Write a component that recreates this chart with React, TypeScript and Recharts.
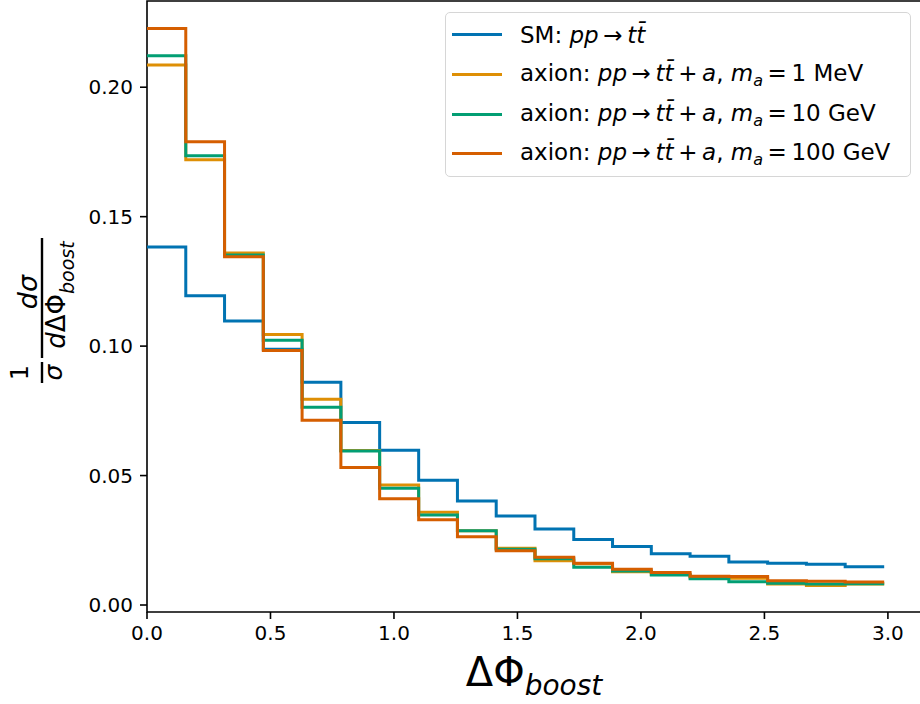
import React from "react"
import { LineChart, Line, XAxis, YAxis, ReferenceArea } from "recharts"

// bin edges of ΔΦ_boost (19 bins of width π/20)
const edges = [
  0, 0.157, 0.314, 0.471, 0.628, 0.785, 0.942, 1.1, 1.257, 1.414,
  1.571, 1.728, 1.885, 2.042, 2.199, 2.356, 2.513, 2.67, 2.827, 2.985,
]

// normalised distributions, one value per bin
const sm = [
  0.1383, 0.1195, 0.1097, 0.0988, 0.086, 0.0705, 0.0598, 0.0482, 0.0402, 0.0344,
  0.0294, 0.0253, 0.0226, 0.0198, 0.0188, 0.0166, 0.0161, 0.0157, 0.0148,
]
const axion1MeV = [
  0.2086, 0.172, 0.136, 0.1045, 0.0795, 0.0597, 0.0464, 0.0358, 0.0287, 0.0219,
  0.0171, 0.0159, 0.0128, 0.0119, 0.0107, 0.0103, 0.0081, 0.0075, 0.0081,
]
const axion10GeV = [
  0.2122, 0.1735, 0.1352, 0.1023, 0.0764, 0.0595, 0.0451, 0.0348, 0.0287, 0.0215,
  0.0179, 0.0146, 0.0131, 0.0116, 0.0101, 0.009, 0.0084, 0.0081, 0.0082,
]
const axion100GeV = [
  0.2227, 0.1789, 0.1345, 0.0983, 0.0714, 0.0531, 0.041, 0.0329, 0.0264, 0.021,
  0.0184, 0.0161, 0.0138, 0.0126, 0.0111, 0.011, 0.0094, 0.0092, 0.0089,
]

const xTicks = [0, 0.5, 1, 1.5, 2, 2.5, 3]
const yTicks = [0, 0.05, 0.1, 0.15, 0.2]

const X_DOMAIN: [number, number] = [0, 3.134]
const Y_DOMAIN: [number, number] = [-0.0027, 0.2333]

const colors = {
  sm: "#0173b2",
  m1: "#de8f05",
  m10: "#029e73",
  m100: "#d55e00",
}

// step curve: last value repeated on the closing edge
const last = (arr: number[], i: number) => arr[Math.min(i, arr.length - 1)]
const data = edges.map((x, i) => ({
  x,
  sm: last(sm, i),
  m1: last(axion1MeV, i),
  m10: last(axion10GeV, i),
  m100: last(axion100GeV, i),
}))

const font = "DejaVu Sans"
const th = "\u2009" // thin space, like mathtext operator spacing

const tbar = <i>t{"\u0304"}</i>

function AxionLabel({ mass }: { mass: string }) {
  return (
    <span>
      axion: <i>pp</i>{th}→{th}<i>t</i>{tbar}{th}+{th}<i>a</i>, <i>m</i>
      <span style={{ fontSize: 16, fontStyle: "italic", position: "relative", top: 5 }}>a</span>
      {th}={th}{mass}
    </span>
  )
}

const legendRows = [
  { color: colors.sm, label: <span>SM: <i>pp</i>{th}→{th}<i>t</i>{tbar}</span> },
  { color: colors.m1, label: <AxionLabel mass="1 MeV" /> },
  { color: colors.m10, label: <AxionLabel mass="10 GeV" /> },
  { color: colors.m100, label: <AxionLabel mass="100 GeV" /> },
]

function ChartLegend() {
  return (
    <div
      style={{
        position: "absolute",
        left: 445,
        top: 12,
        width: 466,
        height: 165,
        boxSizing: "border-box",
        border: "1.6px solid #d6d6d6",
        borderRadius: 5,
        background: "#fff",
        fontFamily: font,
        fontSize: 23,
        paddingTop: 2,
        color: "#000",
      }}
    >
      {legendRows.map((r, i) => (
        <div key={i} style={{ display: "flex", alignItems: "center", height: 39.7, whiteSpace: "nowrap" }}>
          <div style={{ marginLeft: 6, width: 50, height: 3, background: r.color, flexShrink: 0 }} />
          <div style={{ marginLeft: 18, lineHeight: "28px", flexShrink: 0 }}>{r.label}</div>
        </div>
      ))}
    </div>
  )
}

export default function App() {
  return (
    <div style={{ position: "absolute", left: 0, top: 0, width: 920, height: 704, overflow: "hidden", background: "#fff" }}>
      <LineChart width={924} height={704} data={data} margin={{ top: 1, right: 3, bottom: 0, left: 0 }}>
        <XAxis
          dataKey="x"
          type="number"
          domain={X_DOMAIN}
          ticks={xTicks}
          allowDataOverflow
          height={92}
          axisLine={false}
          tickSize={7}
          tickMargin={7}
          tickLine={{ stroke: "#000", strokeWidth: 1.6 }}
          tickFormatter={(v: number) => v.toFixed(1)}
          tick={{ fill: "#000", fontSize: 20, fontFamily: font }}
        />
        <YAxis
          type="number"
          domain={Y_DOMAIN}
          ticks={yTicks}
          allowDataOverflow
          width={147}
          axisLine={false}
          tickSize={7}
          tickMargin={7}
          tickLine={{ stroke: "#000", strokeWidth: 1.6 }}
          tickFormatter={(v: number) => v.toFixed(2)}
          tick={{ fill: "#000", fontSize: 20, fontFamily: font }}
        />
        <Line dataKey="sm" type="stepAfter" stroke={colors.sm} strokeWidth={3} dot={false} isAnimationActive={false} />
        <Line dataKey="m1" type="stepAfter" stroke={colors.m1} strokeWidth={3} dot={false} isAnimationActive={false} />
        <Line dataKey="m10" type="stepAfter" stroke={colors.m10} strokeWidth={3} dot={false} isAnimationActive={false} />
        <Line dataKey="m100" type="stepAfter" stroke={colors.m100} strokeWidth={3} dot={false} isAnimationActive={false} />
        <ReferenceArea
          x1={X_DOMAIN[0]}
          x2={X_DOMAIN[1]}
          y1={Y_DOMAIN[0]}
          y2={Y_DOMAIN[1]}
          fill="none"
          stroke="#000"
          strokeWidth={1.6}
          ifOverflow="visible"
        />
      </LineChart>

      <svg width={920} height={704} style={{ position: "absolute", left: 0, top: 0, pointerEvents: "none" }}>
        {/* x axis label */}
        <text x={534} y={686} fontSize={40} fontFamily={font} textAnchor="middle" fill="#000">
          ΔΦ<tspan fontSize={28} fontStyle="italic" dy={9}>boost</tspan>
        </text>
        {/* y axis label: 1/σ dσ/dΔΦ_boost */}
        <g transform="translate(42,383) rotate(-90)" fontFamily={font} fill="#000">
          <rect x={0} y={-1.2} width={21} height={2.4} fill="#000" />
          <text x={10.5} y={-14} fontSize={24} textAnchor="middle">1</text>
          <text x={10.5} y={20} fontSize={25} fontStyle="italic" textAnchor="middle">σ</text>
          <rect x={25} y={-1.2} width={120} height={2.4} fill="#000" />
          <text x={91} y={-5} fontSize={27} fontStyle="italic" textAnchor="middle">dσ</text>
          <text x={88} y={23} fontSize={26} textAnchor="middle">
            <tspan fontStyle="italic">d</tspan>ΔΦ<tspan fontSize={19} fontStyle="italic" dy={9}>boost</tspan>
          </text>
        </g>
      </svg>

      <ChartLegend />
    </div>
  )
}
